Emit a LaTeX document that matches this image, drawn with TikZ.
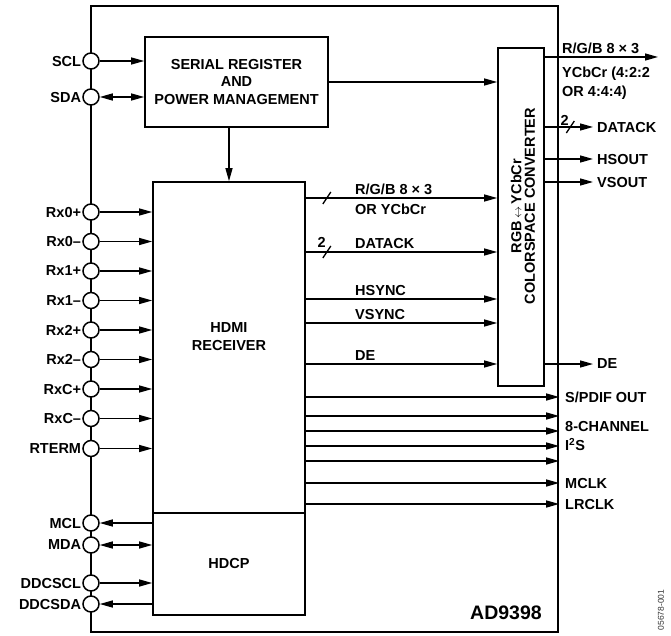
\documentclass[tikz,border=0pt]{standalone}
\usepackage{fontspec}
\setmainfont{Liberation Sans}
\usetikzlibrary{arrows.meta, positioning, calc}

\begin{document}
\begin{tikzpicture}[
    x=1pt, y=-1pt,
    every node/.style={font=\fontsize{14.5}{17.5}\selectfont\bfseries},
    blk/.style={rectangle, draw, line width=1.6pt, inner sep=0pt},
    pad/.style={circle, draw, fill=white, line width=1.5pt, minimum size=16pt, inner sep=0pt, label distance=4.5pt},
    padlbl/.style={inner sep=1pt, text depth=0pt},
    arr/.style={-{Triangle[length=13pt, width=7pt]}, line width=1.3pt},
    darr/.style={{Triangle[length=13pt, width=7pt]}-{Triangle[length=13pt, width=7pt]}, line width=1.3pt},
    buslbl/.style={anchor=south west, inner xsep=0pt, inner ysep=3.5pt, text depth=0pt},
    outlbl/.style={anchor=west, inner xsep=4pt, inner ysep=0pt, text depth=0pt},
    slash/.style={line width=1.3pt}
]
    \useasboundingbox (0,0) rectangle (671,636);

    % chip and blocks
    \node[blk, line width=2.4pt, minimum width=467pt, minimum height=626pt] (chip) at (324.5,319) {};
    \node[blk, minimum width=183pt, minimum height=90pt, align=center] (sreg) at (236.5,82) {SERIAL REGISTER\\AND\\POWER MANAGEMENT};
    \node[blk, minimum width=152pt, minimum height=331pt,
          label={[align=center, yshift=11pt]center:HDMI\\RECEIVER}] (hdmi) at (229,347.5) {};
    \node[blk, minimum width=152pt, minimum height=102pt] (hdcp) at (229,564) {HDCP};
    \node[blk, minimum width=46pt, minimum height=338pt] (conv) at (521,217) {};
    \node[rotate=90, align=center, font=\fontsize{14.5}{13.5}\selectfont\bfseries] (convtxt) at (523,206)
        {RGB\,{\fontsize{12}{12}\selectfont$\leftrightarrow$}\,YCbCr\\COLORSPACE CONVERTER};

    % pins
    \node[pad, label={[padlbl]left:SCL}]    (scl)    at (91,61)    {};
    \node[pad, label={[padlbl]left:SDA}]    (sda)    at (91,97)    {};
    \node[pad, label={[padlbl]left:Rx0+}]   (rx0p)   at (91,212)   {};
    \node[pad, label={[padlbl]left:Rx0–}]   (rx0n)   at (91,241.5) {};
    \node[pad, label={[padlbl]left:Rx1+}]   (rx1p)   at (91,271)   {};
    \node[pad, label={[padlbl]left:Rx1–}]   (rx1n)   at (91,300.5) {};
    \node[pad, label={[padlbl]left:Rx2+}]   (rx2p)   at (91,330)   {};
    \node[pad, label={[padlbl]left:Rx2–}]   (rx2n)   at (91,359.5) {};
    \node[pad, label={[padlbl]left:RxC+}]   (rxcp)   at (91,389)   {};
    \node[pad, label={[padlbl]left:RxC–}]   (rxcn)   at (91,418.5) {};
    \node[pad, label={[padlbl]left:RTERM}]  (rterm)  at (91,448.5) {};
    \node[pad, label={[padlbl]left:MCL}]    (mcl)    at (91,523)   {};
    \node[pad, label={[padlbl]left:MDA}]    (mda)    at (91,545)   {};
    \node[pad, label={[padlbl]left:DDCSCL}] (ddcscl) at (91,583)   {};
    \node[pad, label={[padlbl]left:DDCSDA}] (ddcsda) at (91,604)   {};

    \draw[arr]  (scl)  -- (scl -| sreg.west);
    \draw[darr] (sda)  -- (sda -| sreg.west);
    \draw[arr]  (rx0p) -- (rx0p -| hdmi.west);
    \draw[arr]  (rx0n) -- (rx0n -| hdmi.west);
    \draw[arr]  (rx1p) -- (rx1p -| hdmi.west);
    \draw[arr]  (rx1n) -- (rx1n -| hdmi.west);
    \draw[arr]  (rx2p) -- (rx2p -| hdmi.west);
    \draw[arr]  (rx2n) -- (rx2n -| hdmi.west);
    \draw[arr]  (rxcp) -- (rxcp -| hdmi.west);
    \draw[arr]  (rxcn) -- (rxcn -| hdmi.west);
    \draw[arr]  (rterm) -- (rterm -| hdmi.west);
    \draw[arr]  (mcl -| hdcp.west) -- (mcl);
    \draw[darr] (mda)  -- (mda -| hdcp.west);
    \draw[arr]  (ddcscl) -- (ddcscl -| hdcp.west);
    \draw[arr]  (ddcsda -| hdcp.west) -- (ddcsda);

    % serial register links
    \draw[arr] (hdmi.north |- sreg.south) -- (hdmi.north);
    \draw[arr] (sreg.east) -- (sreg.east -| conv.west);

    % receiver to converter
    \node[buslbl] (rgbl)  at (355,198) {R/G/B 8 × 3};
    \node[anchor=north west, inner xsep=0pt, inner ysep=6pt] (ycbl) at (rgbl.south west) {OR YCbCr};
    \node[buslbl] (dackl) at (355,252) {DATACK};
    \node[buslbl] (hsl)   at (355,299) {HSYNC};
    \node[buslbl] (vsl)   at (355,323) {VSYNC};
    \node[buslbl] (del)   at (355,364) {DE};
    \draw[arr] (hdmi.east |- rgbl.south)  -- (conv.west |- rgbl.south);
    \draw[arr] (hdmi.east |- dackl.south) -- (conv.west |- dackl.south);
    \draw[arr] (hdmi.east |- hsl.south)   -- (conv.west |- hsl.south);
    \draw[arr] (hdmi.east |- vsl.south)   -- (conv.west |- vsl.south);
    \draw[arr] (hdmi.east |- del.south)   -- (conv.west |- del.south);
    \draw[slash] ($(hdmi.east |- rgbl.south)+(17,6)$) -- ++(8,-12);
    \draw[slash] ($(hdmi.east |- dackl.south)+(17,6)$) -- ++(8,-12);
    \node[anchor=south east, inner sep=0pt, text depth=0pt] (two1) at ($(hdmi.east |- dackl.south)+(20,-4)$) {2};

    % converter outputs
    \node[buslbl] (rgbo) at (562,57) {R/G/B 8 × 3};
    \node[anchor=north west, align=left, inner xsep=0pt, inner ysep=10pt,
          font=\fontsize{14.5}{19}\selectfont\bfseries] (ycbo) at (rgbo.south west) {YCbCr (4:2:2\\OR 4:4:4)};
    \coordinate (rgbend) at (658,57);
    \draw[arr] (conv.east |- rgbend) -- (rgbend);
    \node[outlbl] (dack)  at (593,127) {DATACK};
    \node[outlbl] (hsout) at (593,159) {HSOUT};
    \node[outlbl] (vsout) at (593,182) {VSOUT};
    \node[outlbl] (deo)   at (593,364) {DE};
    \draw[arr] (conv.east |- dack)  -- (dack);
    \draw[arr] (conv.east |- hsout) -- (hsout);
    \draw[arr] (conv.east |- vsout) -- (vsout);
    \draw[arr] (conv.east |- deo)   -- (deo);
    \draw[slash] ($(conv.east |- dack)+(21.5,6)$) -- ++(8,-12);
    \node[anchor=south east, inner sep=0pt, text depth=0pt] (two2) at ($(conv.east |- dack)+(24,-1)$) {2};

    % audio outputs
    \node[outlbl] (spdif) at (561,397) {S/PDIF OUT};
    \node[outlbl, align=left, font=\fontsize{14.5}{19}\selectfont\bfseries] (i2s) at (561,436) {8-CHANNEL\\I\textsuperscript{2}S};
    \node[outlbl] (mclk)  at (561,483) {MCLK};
    \node[outlbl] (lrclk) at (561,504) {LRCLK};
    \draw[arr] (hdmi.east |- spdif) -- (chip.east |- spdif);
    \foreach \dy in {-20,-5,10,25}
        \draw[arr] ($(hdmi.east |- i2s)+(0,\dy)$) -- ($(chip.east |- i2s)+(0,\dy)$);
    \draw[arr] (hdmi.east |- mclk)  -- (chip.east |- mclk);
    \draw[arr] (hdmi.east |- lrclk) -- (chip.east |- lrclk);

    \node[font=\fontsize{19.5}{22}\selectfont\bfseries] (part) at (506,613) {AD9398};
    \node[rotate=90, font=\fontsize{8.5}{10}\selectfont, text=black!80] (fignum) at (661,610) {05678-001};
\end{tikzpicture}
\end{document}
